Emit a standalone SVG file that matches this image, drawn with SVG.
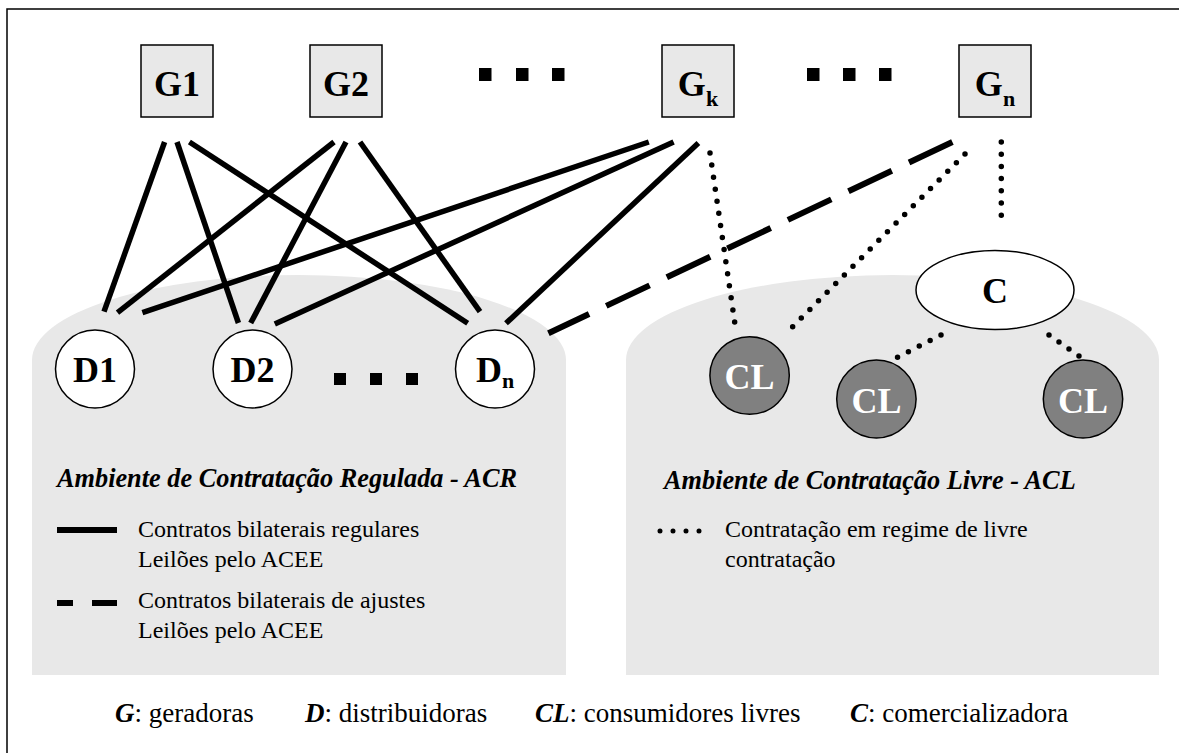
<svg xmlns="http://www.w3.org/2000/svg" width="1179" height="753" viewBox="0 0 1179 753">
  <style>
    .frame { fill: #ffffff; stroke: #000; stroke-width: 1.5; }
    .zone { fill: #e8e8e8; stroke: none; }
    .gen rect { fill: #e8e8e8; stroke: #000; stroke-width: 1.5; }
    .dist ellipse, .comm ellipse { fill: #ffffff; stroke: #000; stroke-width: 1.5; }
    .free ellipse { fill: #808080; stroke: #000; stroke-width: 1.5; }
    .lbl { font-family: "Liberation Serif", "Times New Roman", serif; font-weight: bold; font-size: 36px; text-anchor: middle; fill: #000; }
    .free text { fill: #ffffff; }
    .sub { font-size: 22px; }
    .title { font-family: "Liberation Serif", "Times New Roman", serif; font-weight: bold; font-style: italic; font-size: 26.3px; fill: #000; }
    .txt { font-family: "Liberation Serif", "Times New Roman", serif; font-size: 24px; fill: #000; }
    .key { font-family: "Liberation Serif", "Times New Roman", serif; font-size: 27px; fill: #000; }
    .key .b { font-weight: bold; font-style: italic; }
    .solid { stroke: #000; stroke-width: 5.5; fill: none; }
    .dash { stroke: #000; stroke-width: 6; fill: none; stroke-dasharray: 48 19; }
    .dot { stroke: #000; stroke-width: 5.5; fill: none; stroke-dasharray: 0 12.2; stroke-linecap: round; }
  </style>

  <!-- outer frame (right and bottom edges run off the page) -->
  <rect class="frame" x="7" y="9" width="1200" height="800"/>

  <!-- market environments -->
  <g id="acr-zone">
    <path class="zone" d="M32,675 L32,360 A267,85 0 0 1 566,360 L566,675 Z"/>
    <text class="title" x="57" y="487">Ambiente de Contratação Regulada - ACR</text>
    <line class="solid" x1="57" y1="530" x2="117" y2="530" style="stroke-width:6"/>
    <text class="txt" x="138" y="537">Contratos bilaterais regulares</text>
    <text class="txt" x="138" y="567">Leilões pelo ACEE</text>
    <line class="solid" x1="57" y1="603" x2="73" y2="603" style="stroke-width:6"/>
    <line class="solid" x1="92" y1="603" x2="117" y2="603" style="stroke-width:6"/>
    <text class="txt" x="138" y="608">Contratos bilaterais de ajustes</text>
    <text class="txt" x="138" y="638">Leilões pelo ACEE</text>
  </g>
  <g id="acl-zone">
    <path class="zone" d="M626,675 L626,360 A266.5,85 0 0 1 1159,360 L1159,675 Z"/>
    <text class="title" x="664" y="489">Ambiente de Contratação Livre - ACL</text>
    <line class="dot" x1="660" y1="531" x2="712" y2="531" style="stroke-width:5;stroke-dasharray:0 13"/>
    <text class="txt" x="725" y="537">Contratação em regime de livre</text>
    <text class="txt" x="725" y="567">contratação</text>
  </g>

  <!-- contracts -->
  <g id="connectors">
    <line class="solid" x1="164.6" y1="142" x2="104" y2="311.7"/>
    <line class="solid" x1="177" y1="142" x2="238.4" y2="323"/>
    <line class="solid" x1="189.4" y1="142" x2="467.7" y2="323.3"/>
    <line class="solid" x1="334" y1="142" x2="117.5" y2="312.7"/>
    <line class="solid" x1="346" y1="142" x2="250.7" y2="323"/>
    <line class="solid" x1="360" y1="142" x2="480" y2="311.7"/>
    <line class="solid" x1="648.8" y1="142" x2="142.4" y2="312.7"/>
    <line class="solid" x1="673.6" y1="142" x2="274.8" y2="324"/>
    <line class="solid" x1="698.4" y1="143" x2="506" y2="323.3"/>
    <line class="dash" x1="952.4" y1="142" x2="548.4" y2="333.3"/>
    <line class="dot" x1="710" y1="153" x2="734.7" y2="322.3"/>
    <line class="dot" x1="965" y1="154" x2="784.4" y2="335"/>
    <line class="dot" x1="1001.3" y1="142" x2="1001.3" y2="227"/>
    <line class="dot" x1="941" y1="335" x2="896" y2="358"/>
    <line class="dot" x1="1049" y1="335" x2="1080.4" y2="357"/>
  </g>

  <!-- generators -->
  <g id="g1" class="gen">
    <rect x="141" y="45" width="72" height="72"/>
    <text class="lbl" x="177" y="96">G1</text>
  </g>
  <g id="g2" class="gen">
    <rect x="310" y="45" width="72" height="72"/>
    <text class="lbl" x="346" y="96">G2</text>
  </g>
  <g id="gk" class="gen">
    <rect x="662" y="45" width="72" height="72"/>
    <text class="lbl" x="698" y="96">G<tspan class="sub" dy="10">k</tspan></text>
  </g>
  <g id="gn" class="gen">
    <rect x="959" y="45" width="72" height="72"/>
    <text class="lbl" x="995" y="96">G<tspan class="sub" dy="10">n</tspan></text>
  </g>
  <g id="gen-ellipsis">
    <rect x="479" y="68" width="12.5" height="13"/>
    <rect x="516" y="68" width="12.5" height="13"/>
    <rect x="552" y="68" width="12.5" height="13"/>
    <rect x="807" y="68" width="12.5" height="13"/>
    <rect x="843" y="68" width="12.5" height="13"/>
    <rect x="879" y="68" width="12.5" height="13"/>
  </g>

  <!-- distributors -->
  <g id="d1" class="dist">
    <ellipse cx="95" cy="369" rx="39.5" ry="39"/>
    <text class="lbl" x="95" y="382">D1</text>
  </g>
  <g id="d2" class="dist">
    <ellipse cx="252.5" cy="369" rx="39.5" ry="39"/>
    <text class="lbl" x="252.5" y="382">D2</text>
  </g>
  <g id="dn" class="dist">
    <ellipse cx="495" cy="369" rx="39.5" ry="39"/>
    <text class="lbl" x="495" y="382">D<tspan class="sub" dy="6">n</tspan></text>
  </g>
  <g id="dist-ellipsis">
    <rect x="334" y="373" width="12" height="12"/>
    <rect x="370" y="373" width="12" height="12"/>
    <rect x="406" y="373" width="12" height="12"/>
  </g>

  <!-- trader -->
  <g id="c" class="comm">
    <ellipse cx="995" cy="290" rx="79" ry="39.5"/>
    <text class="lbl" x="995" y="303">C</text>
  </g>

  <!-- free consumers -->
  <g id="cl1" class="free">
    <ellipse cx="749.6" cy="375.5" rx="39.7" ry="38.8"/>
    <text class="lbl" x="749.6" y="389">CL</text>
  </g>
  <g id="cl2" class="free">
    <ellipse cx="876.4" cy="399" rx="39.7" ry="39"/>
    <text class="lbl" x="876.4" y="412.5">CL</text>
  </g>
  <g id="cl3" class="free">
    <ellipse cx="1083" cy="399" rx="39.7" ry="39"/>
    <text class="lbl" x="1083" y="412.5">CL</text>
  </g>

  <!-- abbreviations -->
  <g id="key">
    <text class="key" x="115" y="722"><tspan class="b">G</tspan>: geradoras</text>
    <text class="key" x="305" y="722"><tspan class="b">D</tspan>: distribuidoras</text>
    <text class="key" x="535" y="722"><tspan class="b">CL</tspan>: consumidores livres</text>
    <text class="key" x="850" y="722"><tspan class="b">C</tspan>: comercializadora</text>
  </g>
</svg>
